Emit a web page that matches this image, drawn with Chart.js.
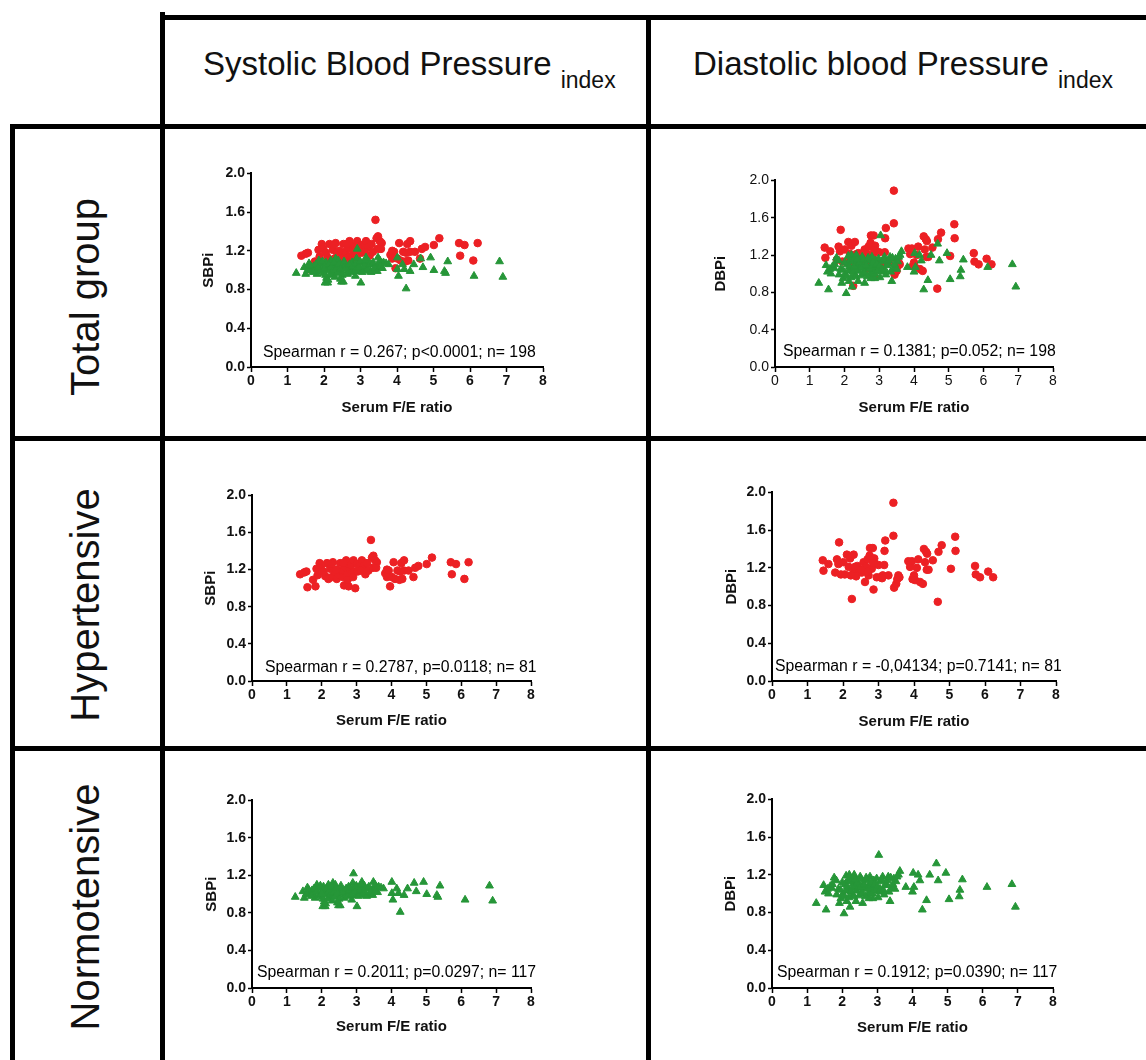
<!DOCTYPE html>
<html>
<head>
<meta charset="utf-8">
<script src="https://cdn.jsdelivr.net/npm/chart.js@4.4.1/dist/chart.umd.min.js"></script>
<style>
  body { margin: 0; background: #fff; }
  #page { position: relative; width: 1146px; height: 1060px; overflow: hidden; font-family: "Liberation Sans", Arial, sans-serif; }
  .ln { position: absolute; background: #000; }
  .hdr { position: absolute; font-size: 33px; color: #111; white-space: nowrap; }
  .hdr sub { font-size: 23px; vertical-align: -13px; }
  .row { position: absolute; font-size: 40px; color: #111; white-space: nowrap; transform: translate(-50%, -50%) rotate(-90deg); }
  canvas { position: absolute; }
</style>
</head>
<body>
<div id="page">
  <!-- table grid -->
  <div class="ln" style="left:160px;top:15px;width:986px;height:5px"></div>
  <div class="ln" style="left:160px;top:12px;width:5px;height:1048px"></div>
  <div class="ln" style="left:646px;top:15px;width:5px;height:1045px"></div>
  <div class="ln" style="left:10px;top:124px;width:1136px;height:5px"></div>
  <div class="ln" style="left:10px;top:124px;width:5px;height:936px"></div>
  <div class="ln" style="left:10px;top:436px;width:1136px;height:5px"></div>
  <div class="ln" style="left:10px;top:746px;width:1136px;height:5px"></div>

  <div class="hdr" style="left:203px;top:45px">Systolic Blood Pressure <sub>index</sub></div>
  <div class="hdr" style="left:693px;top:45px">Diastolic blood Pressure <sub>index</sub></div>

  <div class="row" style="left:85px;top:297px">Total group</div>
  <div class="row" style="left:85px;top:605px">Hypertensive</div>
  <div class="row" style="left:85px;top:907px">Normotensive</div>

  <canvas id="c1"></canvas>
  <canvas id="c2"></canvas>
  <canvas id="c3"></canvas>
  <canvas id="c4"></canvas>
  <canvas id="c5"></canvas>
  <canvas id="c6"></canvas>
</div>
<script>
// axis ticks
const xTickValues = [0, 1, 2, 3, 4, 5, 6, 7, 8];
const yTickValues = [0, 0.4, 0.8, 1.2, 1.6, 2.0];

// hypertensive subjects (red circles)
const hyperSbpFE = [1.38,1.50,1.56,1.59,1.75,1.82,1.85,1.88,1.94,1.98, 2.10,2.15,2.19,2.24,2.29,2.32,2.36,2.43,2.51,2.53,
  2.58,2.61,2.64,2.67,2.70,2.72,2.77,2.80,2.84,2.86, 2.91,2.93,2.96,3.01,3.08,3.15,3.20,3.25,3.34,3.41,
  3.44,3.48,3.53,3.58,3.47,3.82,3.87,3.92,3.96,4.01, 4.06,4.10,4.17,4.23,4.28,4.31,4.36,4.36,4.49,4.63,
  4.68,4.77,5.01,5.16,5.70,5.73,5.85,6.09,6.21, 2.05,2.26,2.42,2.62,2.74,2.90,3.03,3.12,3.30,3.56, 3.87,4.25];
const hyperSbp = [1.15,1.17,1.18,1.01,1.09,1.02,1.21,1.14,1.27,1.22, 1.13,1.27,1.10,1.21,1.12,1.28,1.18,1.10,1.14,1.27,
  1.19,1.12,1.03,1.23,1.30,1.15,1.02,1.21,1.25,1.16, 1.30,1.18,1.00,1.26,1.24,1.30,1.24,1.15,1.19,1.52,
  1.33,1.35,1.30,1.28,1.22,1.16,1.20,1.19,1.02,1.12, 1.28,1.10,1.19,1.09,1.27,1.10,1.30,1.19,1.19,1.12,
  1.22,1.24,1.26,1.33,1.28,1.15,1.26,1.10,1.28, 1.18,1.26,1.20,1.27,1.09,1.12,1.18,1.19,1.27,1.22, 1.12,1.18];

const hyperDbpFE = [1.43,1.45,1.59,1.78,1.83,1.89,1.87,1.94,2.01,2.11, 2.16,2.20,2.25,2.30,2.31,2.34,2.37,2.44,2.53,2.58,
  2.62,2.65,2.69,2.72,2.75,2.76,2.81,2.84,2.86,2.88, 2.91,2.95,3.00,3.05,3.12,3.16,3.17,3.19,3.28,3.42,
  3.42,3.44,3.50,3.53,3.56,3.59,3.84,3.89,3.94,3.96, 4.00,4.03,4.08,4.12,4.17,4.25,4.28,4.31,4.34,4.36,
  4.37,4.41,4.53,4.67,4.69,4.78,5.04,5.16,5.17,5.72, 5.74,5.86,6.09,6.23, 2.05,2.40,2.50,2.70,2.85,3.10,2.22];
const hyperDbp = [1.28,1.17,1.24,1.15,1.29,1.47,1.24,1.13,1.26,1.34, 1.21,1.30,0.87,1.34,1.17,1.21,1.11,1.19,1.15,1.26,
  1.05,1.21,1.29,1.12,1.33,1.41,1.19,1.41,0.97,1.30, 1.24,1.10,1.23,1.10,1.12,1.23,1.38,1.49,1.12,1.89,
  1.54,0.99,1.03,1.08,1.12,1.10,1.27,1.21,1.27,1.08, 1.12,1.07,1.20,1.29,1.05,1.03,1.40,1.26,1.37,1.18,
  1.35,1.18,1.28,0.84,1.37,1.44,1.19,1.53,1.38,1.22, 1.13,1.10,1.16,1.10, 1.13,1.22,1.18,1.16,1.25,1.09,1.12];

// normotensive subjects (green triangles)
const normoSbpFE = [1.24,1.46,1.50,1.59,1.65,1.72,1.77,1.81,1.86,1.94, 2.00,2.03,2.07,2.05,2.10,2.15,2.19,2.22,2.26,2.29,
  2.32,2.36,2.39,2.43,2.48,2.51,2.53,2.58,2.63,2.67, 2.72,2.77,2.82,2.86,2.89,2.91,2.93,2.96,3.01,3.03,
  3.08,3.15,3.18,3.22,3.27,3.31,3.37,3.44,3.48,3.50, 3.53,3.63,3.77,4.01,4.01,4.04,4.15,4.20,4.25,4.36,
  4.46,4.65,4.71,4.92,5.01,5.30,5.33,5.39,6.11,6.81, 6.90,
  1.55,1.62,1.70,1.78,1.85,1.90,1.96,2.02,2.04,2.08, 2.11,2.13,2.17,2.20,2.24,2.27,2.30,2.34,2.37,2.41,
  2.45,2.50,2.55,2.60,2.65,2.70,2.74,2.79,2.84,2.88, 2.95,2.99,3.05,3.10,3.13,3.20,3.25,3.29,3.35,3.40,
  3.46,3.55,3.60,2.45,2.00,3.70];
const normoSbp = [0.97,1.03,0.96,1.07,1.01,1.04,0.99,0.96,1.10,1.06, 0.97,0.87,0.92,1.08,0.87,1.01,1.10,0.96,1.06,1.01,
  1.12,1.05,1.10,0.99,0.88,1.03,0.88,1.05,0.99,1.04, 1.01,1.08,1.03,0.94,1.12,1.22,1.05,0.99,0.87,1.07,
  1.01,1.13,1.05,1.09,0.99,1.06,1.01,1.03,1.13,1.06, 1.10,1.08,1.06,1.13,1.01,0.94,1.06,1.01,0.81,0.99,
  1.06,1.12,1.03,1.13,1.00,0.99,0.97,1.09,0.94,1.09, 0.93,
  1.00,1.05,0.98,1.06,1.03,0.99,1.09,1.04,0.95,1.00, 0.90,1.06,0.95,1.03,0.99,1.08,0.93,1.02,0.97,1.06,
  1.01,0.95,1.09,1.02,0.96,1.06,0.98,1.04,0.99,1.07, 1.03,1.09,0.98,1.04,1.10,1.00,1.06,0.98,1.08,1.02,
  0.99,1.04,1.02,0.91,1.01,1.07];

const normoDbpFE = [1.26,1.47,1.51,1.54,1.61,1.66,1.70,1.77,1.83,1.84, 1.89,1.92,1.96,2.02,2.05,2.08,2.11,2.13,2.15,2.18,
  2.20,2.22,2.27,2.30,2.32,2.34,2.37,2.39,2.41,2.46, 2.51,2.53,2.58,2.60,2.65,2.70,2.74,2.77,2.79,2.84,
  2.87,2.90,2.93,2.98,3.04,3.06,3.09,3.15,3.19,3.25, 3.31,3.36,3.41,3.47,3.53,3.60,3.64,3.81,4.00,4.02,
  4.04,4.16,4.21,4.28,4.40,4.49,4.68,4.73,4.95,5.04, 5.33,5.35,5.42,6.12,6.83,6.93,
  1.58,1.72,1.95,2.00,2.06,2.10,2.14,2.19,2.23,2.25, 2.29,2.33,2.36,2.40,2.44,2.48,2.50,2.55,2.57,2.62,
  2.66,2.68,2.72,2.76,2.80,2.82,2.86,2.92,2.96,3.00, 3.02,3.08,3.12,3.17,3.22,3.28,3.33,3.38,3.44,3.50, 3.56];
const normoDbp = [0.90,1.09,1.02,0.83,1.00,1.08,1.06,1.17,1.14,0.99, 1.05,0.90,0.95,1.00,0.79,1.10,1.19,0.92,1.14,1.04,
  1.20,0.86,1.16,0.99,1.11,1.20,1.06,0.92,1.14,1.08, 1.18,1.00,0.90,1.11,1.06,1.14,1.00,1.10,1.18,1.04,
  0.95,1.14,1.07,1.16,1.41,1.02,1.13,1.18,0.99,1.11, 1.18,0.92,1.06,1.16,1.13,1.20,1.24,1.07,1.02,1.22,
  1.07,1.20,1.14,0.83,0.93,1.20,1.32,1.14,1.22,0.94, 0.97,1.04,1.15,1.07,1.10,0.86,
  1.05,1.10,1.04,1.12,0.97,1.03,1.08,0.96,1.13,1.02, 1.07,0.97,1.15,1.03,1.12,0.98,1.06,1.15,1.01,1.09,
  0.97,1.17,1.05,0.95,1.08,1.12,1.00,1.10,1.03,1.08, 0.96,1.05,1.15,1.04,1.09,1.14,1.02,1.17,1.10,1.05, 1.18];

const notes = [
  'Spearman r = 0.267; p<0.0001; n= 198',
  'Spearman r = 0.1381; p=0.052; n= 198',
  'Spearman r = 0.2787, p=0.0118; n= 81',
  'Spearman r = -0,04134; p=0.7141; n= 81',
  'Spearman r = 0.2011; p=0.0297; n= 117',
  'Spearman r = 0.1912; p=0.0390; n= 117'
];

const RED = 'rgb(236,32,36)';
const GREEN = 'rgb(38,150,56)';
const FONT = '"Liberation Sans", Arial, sans-serif';

const pairs = (xs, ys) => xs.map((x, i) => ({ x: x, y: ys[i] }));

const redSet = (xs, ys) => ({
  data: pairs(xs, ys), pointStyle: 'circle', pointRadius: 3.8,
  backgroundColor: RED, borderColor: RED, borderWidth: 1
});
const greenSet = (xs, ys) => ({
  data: pairs(xs, ys), pointStyle: 'triangle', pointRadius: 4.5,
  backgroundColor: GREEN, borderColor: GREEN, borderWidth: 1
});

// draws the Spearman line inside the plot area
const notePlugin = {
  id: 'note',
  afterDatasetsDraw(chart, args, opts) {
    const { ctx, chartArea } = chart;
    ctx.save();
    ctx.font = '15.8px ' + FONT;
    ctx.fillStyle = '#000';
    ctx.textBaseline = 'middle';
    ctx.fillText(opts.text, chartArea.left + opts.dx, chartArea.bottom - opts.dy);
    ctx.restore();
  }
};

// plot rectangles in page pixels; titleX / titleY = centres of the axis titles
const panels = [
  { id: 'c1', yTitle: 'SBPi', sets: [greenSet(normoSbpFE, normoSbp), redSet(hyperSbpFE, hyperSbp)],
    l: 251, t: 173, r: 543, b: 367, titleX: 209, titleY: 408, note: notes[0], dx: 12, dy: 14, bold: true },
  { id: 'c2', yTitle: 'DBPi', sets: [greenSet(normoDbpFE, normoDbp), redSet(hyperDbpFE, hyperDbp)],
    l: 775, t: 180, r: 1053, b: 367, titleX: 721, titleY: 408, note: notes[1], dx: 8, dy: 15, bold: false },
  { id: 'c3', yTitle: 'SBPi', sets: [redSet(hyperSbpFE, hyperSbp)],
    l: 252, t: 495, r: 531, b: 681, titleX: 211, titleY: 721, note: notes[2], dx: 13, dy: 13, bold: true },
  { id: 'c4', yTitle: 'DBPi', sets: [redSet(hyperDbpFE, hyperDbp)],
    l: 772, t: 492, r: 1056, b: 681, titleX: 732, titleY: 722, note: notes[3], dx: 3, dy: 14, bold: true },
  { id: 'c5', yTitle: 'SBPi', sets: [greenSet(normoSbpFE, normoSbp)],
    l: 252, t: 800, r: 531, b: 988, titleX: 212, titleY: 1027, note: notes[4], dx: 5, dy: 15, bold: true },
  { id: 'c6', yTitle: 'DBPi', sets: [greenSet(normoDbpFE, normoDbp)],
    l: 772, t: 799, r: 1053, b: 988, titleX: 731, titleY: 1028, note: notes[5], dx: 5, dy: 15, bold: true }
];

const padTop = 10;
const padRight = 24;
const titleSize = 15;
const titleOffset = 4 + titleSize * 1.2 / 2;

panels.forEach(p => {
  const canvas = document.getElementById(p.id);
  const left = Math.round(p.titleX - titleOffset);
  const top = p.t - padTop;
  const bottom = Math.round(p.titleY + titleOffset);
  const width = p.r + padRight - left;
  const height = bottom - top;
  canvas.style.left = left + 'px';
  canvas.style.top = top + 'px';
  canvas.width = width;
  canvas.height = height;
  const yWidth = p.l - left;
  const xHeight = bottom - p.b;
  const tickFont = { family: FONT, size: 14, weight: p.bold ? 'bold' : 'normal' };
  const titleFont = { family: FONT, size: titleSize, weight: 'bold' };

  new Chart(canvas, {
    type: 'scatter',
    data: { datasets: p.sets },
    options: {
      responsive: false,
      animation: false,
      events: [],
      layout: { padding: { top: padTop, right: padRight, left: 0, bottom: 0 } },
      plugins: {
        legend: { display: false },
        tooltip: { enabled: false },
        note: { text: p.note, dx: p.dx, dy: p.dy }
      },
      scales: {
        x: {
          type: 'linear', min: 0, max: 8,
          afterBuildTicks: s => { s.ticks = xTickValues.map(v => ({ value: v })); },
          afterFit: s => { s.height = xHeight; },
          ticks: { color: '#111', font: tickFont, padding: 1, maxRotation: 0 },
          grid: { drawOnChartArea: false, drawTicks: true, tickLength: 5, tickColor: '#000', tickWidth: 1.5 },
          border: { display: true, color: '#000', width: 2 },
          title: { display: true, text: 'Serum F/E ratio', color: '#111', font: titleFont, padding: { top: 4, bottom: 4 } }
        },
        y: {
          type: 'linear', min: 0, max: 2,
          afterBuildTicks: s => { s.ticks = yTickValues.map(v => ({ value: v })); },
          afterFit: s => { s.width = yWidth; },
          ticks: { color: '#111', font: tickFont, padding: 2, callback: v => v.toFixed(1) },
          grid: { drawOnChartArea: false, drawTicks: true, tickLength: 4, tickColor: '#000', tickWidth: 1.5 },
          border: { display: true, color: '#000', width: 2 },
          title: { display: true, text: p.yTitle, color: '#111', font: titleFont, padding: { top: 4, bottom: 4 } }
        }
      }
    },
    plugins: [notePlugin]
  });
});
</script>
</body>
</html>
